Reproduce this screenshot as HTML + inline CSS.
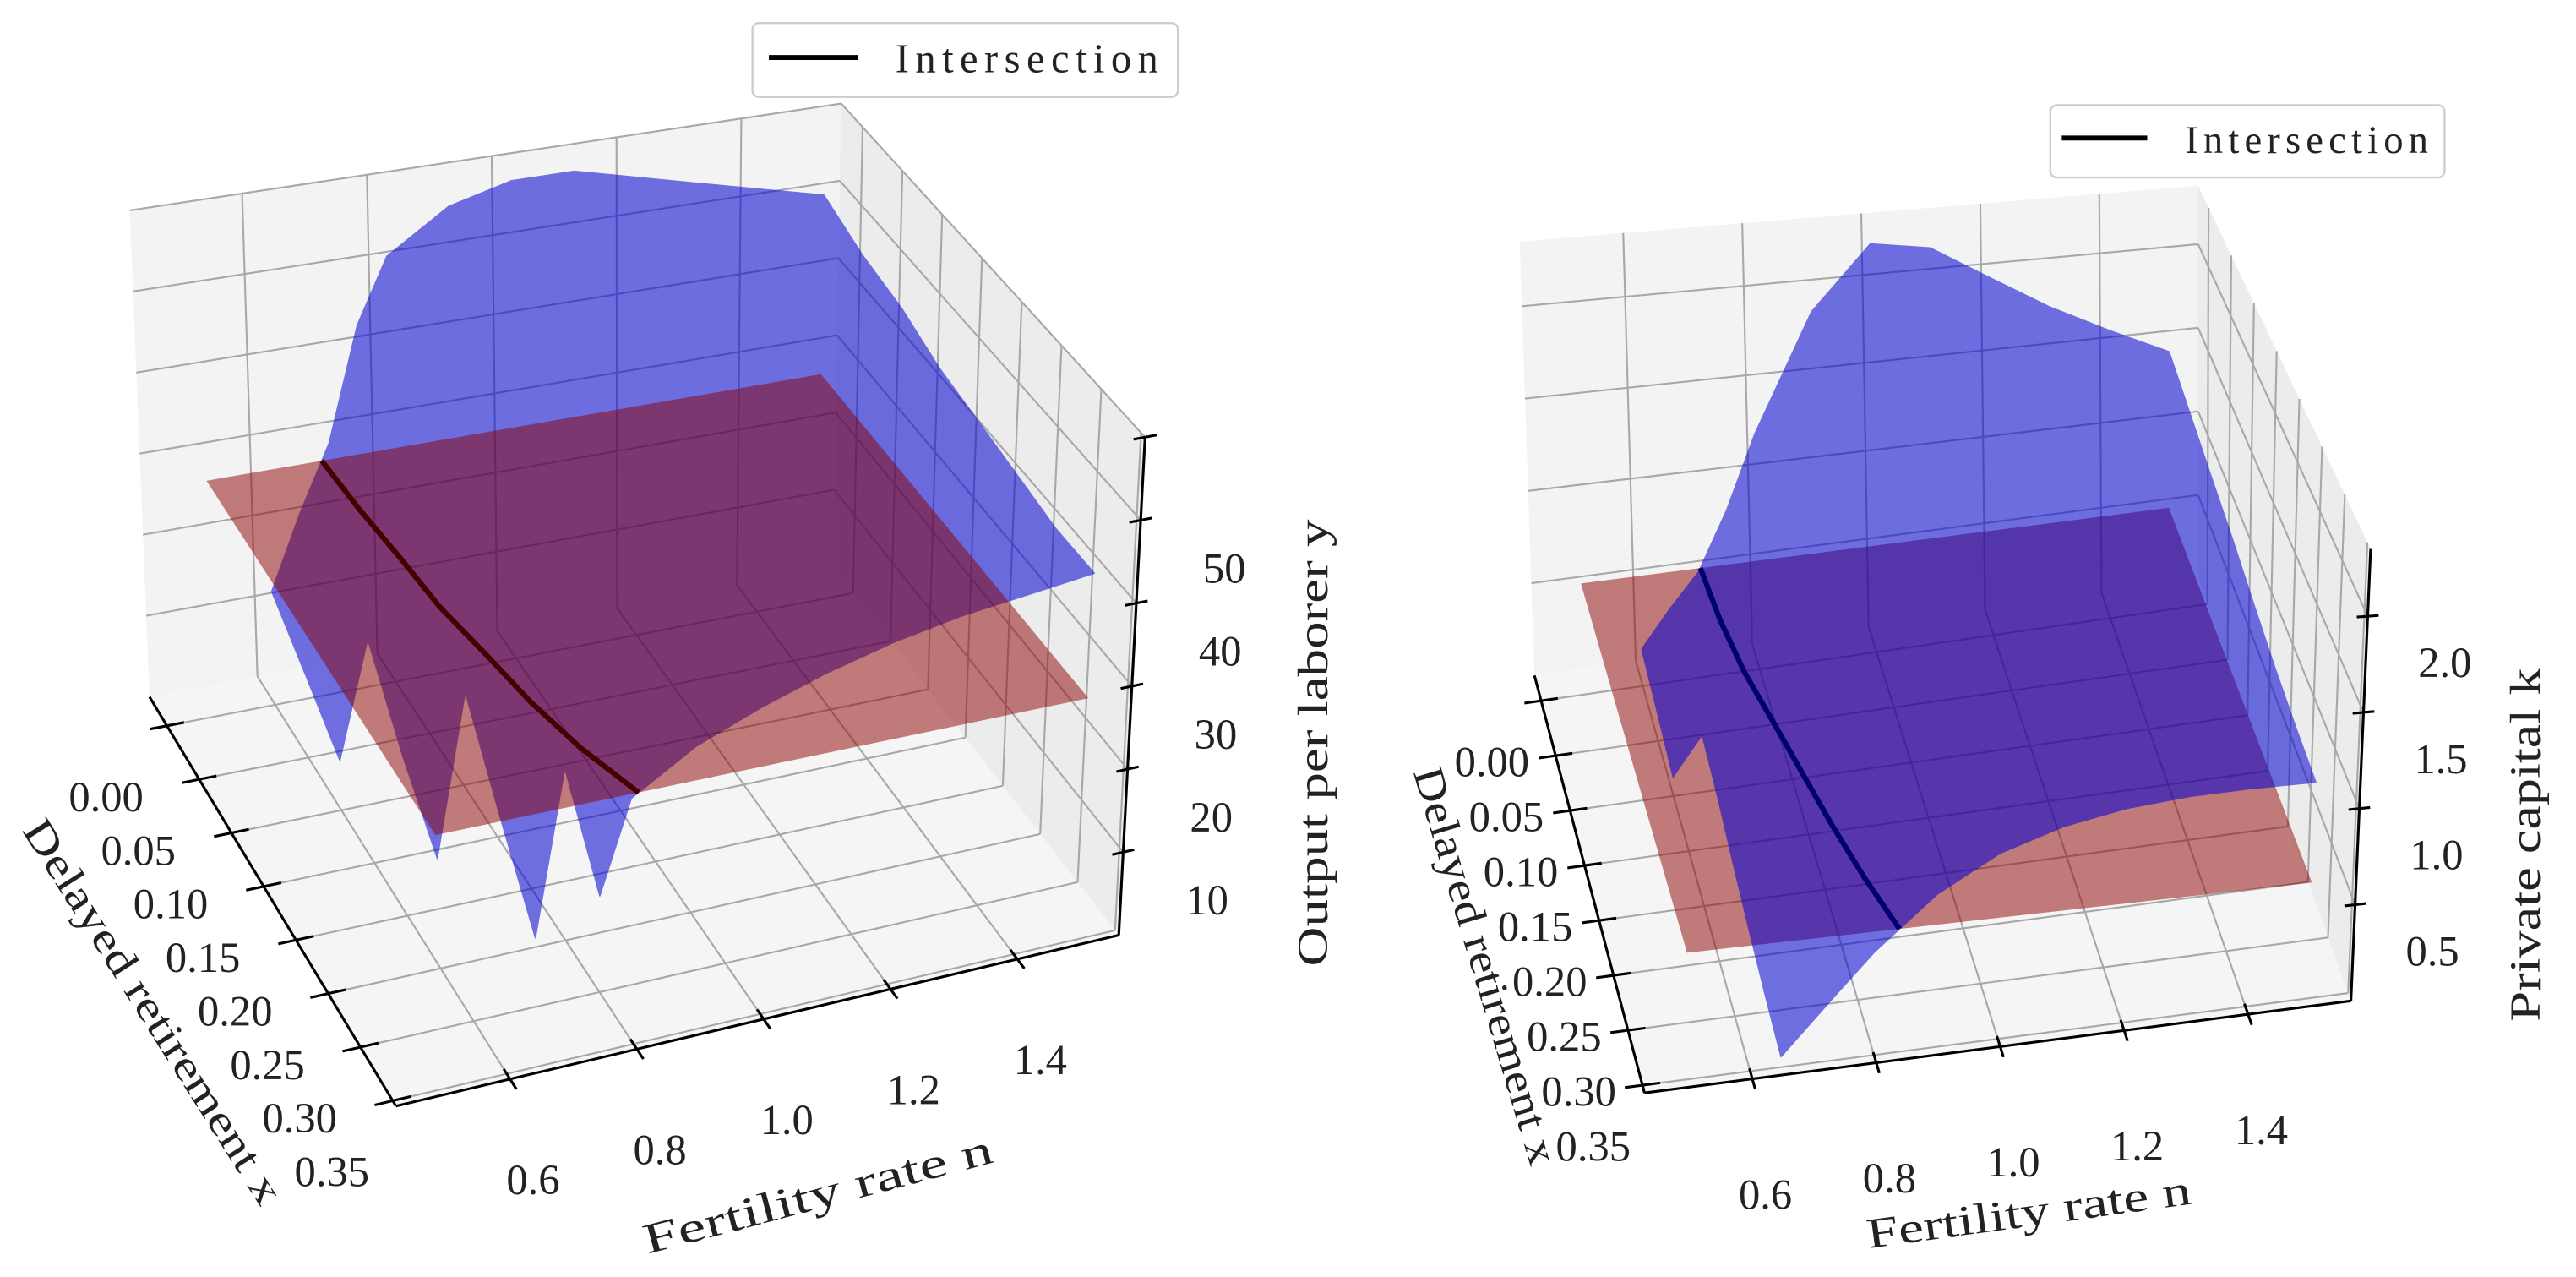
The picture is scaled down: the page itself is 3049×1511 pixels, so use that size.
<!DOCTYPE html>
<html><head><meta charset="utf-8"><style>
html,body{margin:0;padding:0;background:#fff;}
svg{display:block;}
text{font-family:"Liberation Serif","Noto Serif CJK SC",serif;fill:#222;}
</style></head><body>
<svg id="fig" xmlns="http://www.w3.org/2000/svg" width="3049" height="1511" viewBox="0 0 1568 777" preserveAspectRatio="none">
<rect x="0" y="0" width="1568" height="777" fill="#fff"/>
<g id="left"></g>
<g id="right"></g>
<g>
<rect x="458" y="14" width="259" height="45" rx="4" fill="#fff" stroke="#ccc" stroke-width="1.2"/>
<line x1="468" y1="35" x2="522" y2="35" stroke="#000" stroke-width="3"/>
<text x="545" y="44" font-size="25" textLength="160">Intersection</text>
</g>
<g>
<rect x="1248" y="64" width="240" height="44" rx="4" fill="#fff" stroke="#ccc" stroke-width="1.2"/>
<line x1="1255" y1="84" x2="1307" y2="84" stroke="#000" stroke-width="3"/>
<text x="1330" y="93" font-size="24" textLength="148">Intersection</text>
</g>
</svg>
<script>
// ---------- data ----------
const nVals = [0.5,0.55,0.6,0.65,0.7,0.75,0.8,0.9,1.0,1.1,1.2,1.3,1.4,1.5];
const xVals = [0,0.05,0.10,0.15,0.20,0.25,0.30,0.35];
const outputRows = [
 [null,null,14,23,31,45,53,58,60,60,58,56,54,52],
 [null,null,10,21,30,41,48,54,57,57,56,54,52,50],
 [null,null,6,20,28,37,44,50,53,54,53,52,50,49],
 [null,null,null,12,27,34,40,46,49,50,50,49,48,47],
 [null,null,null,6,25,31,36,42,45,46,47,47,46,46],
 [null,null,null,null,16,29,33,38,41,43,44,45,45,45],
 [null,null,null,null,8,27,31,35,38,40,42,43,44,44],
 [null,null,null,null,null,18,28.5,33,36,38.5,40.5,42,43,44]
];
const outputPlane = 29;
const capitalRows = [
 [null,null,0.2,0.4,0.58,0.9,1.3,1.95,2.3,2.25,2.05,1.85,1.68,1.52],
 [null,null,0.15,0.35,0.55,0.82,1.15,1.7,2.0,1.98,1.85,1.7,1.58,1.45],
 [null,null,0.1,0.3,0.5,0.72,1.0,1.48,1.74,1.76,1.68,1.57,1.48,1.38],
 [null,null,null,0.25,0.42,0.62,0.86,1.27,1.52,1.56,1.52,1.45,1.38,1.32],
 [null,null,null,0.18,0.35,0.53,0.75,1.1,1.32,1.38,1.38,1.34,1.29,1.25],
 [null,null,null,0.12,0.3,0.46,0.65,0.95,1.15,1.23,1.25,1.24,1.21,1.19],
 [null,null,null,0.08,0.25,0.4,0.57,0.84,1.02,1.11,1.15,1.16,1.16,1.15],
 [null,null,null,0.05,0.2,0.35,0.5,0.75,0.92,1.02,1.08,1.11,1.12,1.12]
];
const capitalPlane = 0.6;
const planeN = [0.5,1.5];
const planeX = [0,0.35];
const nTicks = [0.6,0.8,1.0,1.2,1.4];
const nTickLabels = ["0.6","0.8","1.0","1.2","1.4"];
const xTicks = [0,0.05,0.10,0.15,0.20,0.25,0.30,0.35];
const xTickLabels = ["0.00","0.05","0.10","0.15","0.20","0.25","0.30","0.35"];
const outputZTicks = [10,20,30,40,50,60];
const outputZLabels = ["10","20","30","40","50",""];
const capitalZTicks = [0.5,1.0,1.5,2.0];
const capitalZLabels = ["0.5","1.0","1.5","2.0"];

// ---------- layout ----------
const NS="http://www.w3.org/2000/svg";
function mk(tag, attrs, parent){const e=document.createElementNS(NS,tag);for(const k in attrs)e.setAttribute(k,attrs[k]);parent.appendChild(e);return e;}

const panels = {
 left:{n0:0.42,n1:1.56,x0:-0.027,x1:0.355,z0:0,z1:60,
   c:{"000":[91,424],"100":[507,345],"010":[241,673],"110":[681,569],"001":[79,128],"101":[512,63],"011":[229,352],"111":[697,266]},
   xo:[-37,52],no:[14,70],zo:[51,38]},
 right:{n0:0.426,n1:1.566,x0:-0.023,x1:0.357,z0:0,z1:2.35,
   c:{"000":[934,411],"100":[1338,352],"010":[1001,665],"110":[1431,609],"001":[925,147],"101":[1338,113],"011":[997,361],"111":[1443,334]},
   xo:[-30,46],no:[8,79],zo:[47,37]}
};
function proj(P,n,x,z){
 const u=(n-P.n0)/(P.n1-P.n0), v=(x-P.x0)/(P.x1-P.x0), w=(z-P.z0)/(P.z1-P.z0);
 let X=0,Y=0;
 for(const i of [0,1])for(const j of [0,1])for(const k of [0,1]){
  const f=(i?u:1-u)*(j?v:1-v)*(k?w:1-w); const p=P.c[""+i+j+k]; X+=f*p[0]; Y+=f*p[1];}
 return [X,Y];
}
function pts(arr){return arr.map(p=>p[0].toFixed(1)+","+p[1].toFixed(1)).join(" ");}

function drawPanel(id, P, rows, planeZ, zTicks, zLabels, blueOnTop, titles){
 const g=document.getElementById(id);
 const c=P.c;
 const paneBack=mk("polygon",{points:pts([c["000"],c["100"],c["101"],c["001"]]),fill:"#f3f3f3"},g);
 
 
 const paneSide=mk("polygon",{points:pts([c["100"],c["110"],c["111"],c["101"]]),fill:"#ececec"},g);
 
 
 const paneFloor=mk("polygon",{points:pts([c["000"],c["100"],c["110"],c["010"]]),fill:"#f5f5f5"},g);
 
 
 const grid=mk("g",{stroke:"#a8a8a8","stroke-width":1.1,fill:"none"},g);
 
 
 const L=(a,b)=>mk("line",{x1:a[0],y1:a[1],x2:b[0],y2:b[1]},grid);
 nTicks.forEach(n=>{L(proj(P,n,P.x0,P.z0),proj(P,n,P.x0,P.z1));L(proj(P,n,P.x0,P.z0),proj(P,n,P.x1,P.z0));});
 xTicks.forEach(x=>{L(proj(P,P.n1,x,P.z0),proj(P,P.n1,x,P.z1));L(proj(P,P.n0,x,P.z0),proj(P,P.n1,x,P.z0));});
 zTicks.forEach(z=>{L(proj(P,P.n0,P.x0,z),proj(P,P.n1,P.x0,z));L(proj(P,P.n1,P.x0,z),proj(P,P.n1,P.x1,z));});
 const ax=mk("g",{stroke:"#000","stroke-width":1.6},g);
 
 
 const A=(a,b)=>mk("line",{x1:a[0],y1:a[1],x2:b[0],y2:b[1]},ax);
 A(c["000"],c["010"]);A(c["010"],c["110"]);A(c["110"],c["111"]);
 const dn=(P.n1-P.n0)*0.025, dx=(P.x1-P.x0)*0.025, dz=(P.n1-P.n0)*0.015;
 xTicks.forEach(x=>A(proj(P,P.n0-dn,x,P.z0),proj(P,P.n0+dn,x,P.z0)));
 nTicks.forEach(n=>A(proj(P,n,P.x1-dx,P.z0),proj(P,n,P.x1+dx,P.z0)));
 zTicks.forEach(z=>A(proj(P,P.n1-dz,P.x1,z),proj(P,P.n1+dz,P.x1,z)));
 xTicks.forEach((x,i)=>{const p=proj(P,P.n0,x,P.z0);
  const t=mk("text",{x:(p[0]+P.xo[0]).toFixed(1),y:(p[1]+P.xo[1]).toFixed(1),"font-size":26,"text-anchor":"middle"},g);
  t.textContent=xTickLabels[i];
  
  });
 nTicks.forEach((n,i)=>{const p=proj(P,n,P.x1,P.z0);
  const t=mk("text",{x:(p[0]+P.no[0]).toFixed(1),y:(p[1]+P.no[1]).toFixed(1),"font-size":26,"text-anchor":"middle"},g);
  t.textContent=nTickLabels[i];
  
  });
 zTicks.forEach((z,i)=>{const p=proj(P,P.n1,P.x1,z);
  const t=mk("text",{x:(p[0]+P.zo[0]).toFixed(1),y:(p[1]+P.zo[1]).toFixed(1),"font-size":26,"text-anchor":"middle"},g);
  t.textContent=zLabels[i];
  
  });
 titles.forEach(tt=>{
  const t=mk("text",{x:0,y:0,"font-size":26,"text-anchor":"middle",textLength:tt.len,lengthAdjust:"spacingAndGlyphs",transform:`translate(${tt.cx},${tt.cy}) rotate(${tt.a})`},g);
  t.textContent=tt.text;
  
  });
 const blue=mk("g",{opacity:0.55,fill:"rgb(0,0,210)",stroke:"rgb(0,0,210)","stroke-width":0.8,"stroke-linejoin":"round"},g);
 
 
 for(let j=0;j<xVals.length-1;j++)for(let i=0;i<nVals.length-1;i++){
  const a=rows[j][i],b=rows[j][i+1],cc=rows[j+1][i+1],d=rows[j+1][i];
  if(a===null||b===null||cc===null||d===null)continue;
  const q=mk("polygon",{points:pts([proj(P,nVals[i],xVals[j],a),proj(P,nVals[i+1],xVals[j],b),proj(P,nVals[i+1],xVals[j+1],cc),proj(P,nVals[i],xVals[j+1],d)])},blue);
  
  
 }
 const red=mk("g",{opacity:0.5,fill:"#8b0000"},g);
 
 
 const rp=mk("polygon",{points:pts([proj(P,planeN[0],planeX[0],planeZ),proj(P,planeN[1],planeX[0],planeZ),proj(P,planeN[1],planeX[1],planeZ),proj(P,planeN[0],planeX[1],planeZ)])},red);
 
 
 const ip=[];
 rows.forEach((r,j)=>{for(let i=0;i<r.length-1;i++){const a=r[i],b=r[i+1];if(a===null||b===null)continue;
  if(a<=planeZ&&b>=planeZ){const nc=nVals[i]+(nVals[i+1]-nVals[i])*(planeZ-a)/(b-a);ip.push(proj(P,nc,xVals[j],planeZ));break;}}});
 const line=mk("polyline",{points:pts(ip),fill:"none",stroke:"#000","stroke-width":3.2},g);
 
 
 if(blueOnTop){g.appendChild(red);g.appendChild(line);g.appendChild(blue);}
 else{g.appendChild(blue);g.appendChild(line);g.appendChild(red);}
}
drawPanel("left",panels.left,outputRows,outputPlane,outputZTicks,outputZLabels,false,[
 {text:"Delayed retirement x",cx:86,cy:620,a:57.6,len:272,name:"x-axis-title"},
 {text:"Fertility rate n",cx:500,cy:735,a:-14.8,len:219,name:"n-axis-title"},
 {text:"Output per laborer y",cx:808,cy:452,a:-90,len:272,name:"z-axis-title"}]);
drawPanel("right",panels.right,capitalRows,capitalPlane,capitalZTicks,capitalZLabels,true,[
 {text:"Delayed retirement x",cx:896,cy:590,a:73.4,len:251,name:"x-axis-title"},
 {text:"Fertility rate n",cx:1236,cy:746,a:-7.8,len:199,name:"n-axis-title"},
 {text:"Private capital k",cx:1546,cy:514,a:-90,len:215,name:"z-axis-title"}]);
</script>
</body></html>
